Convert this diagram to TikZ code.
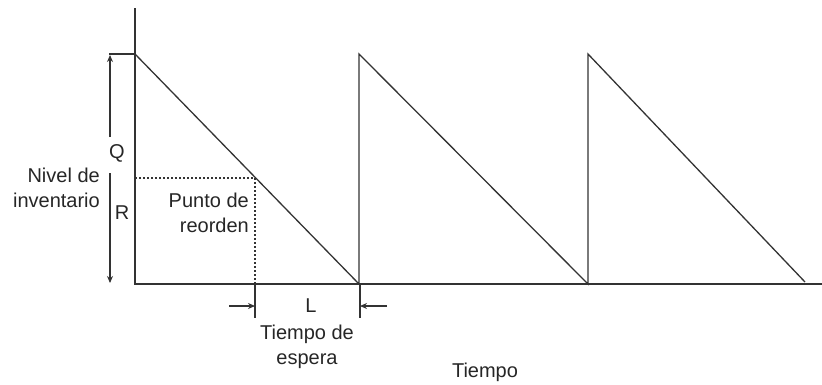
\documentclass[tikz,border=0pt]{standalone}
\usepackage{fontspec}
\setmainfont{Liberation Sans}
\usetikzlibrary{arrows.meta}
\begin{document}
\begin{tikzpicture}[x=1pt,y=-1pt,
  ln/.style={draw=black!80,line width=1.3pt},
  dot/.style={draw=black!80,line width=1.4pt,dash pattern=on 1.5pt off 2.5pt},
  arr/.style={draw=black!80,line width=1.1pt,-{Stealth[length=7pt,width=6pt]}},
  lbl/.style={font=\fontsize{20}{25}\selectfont,inner sep=0pt,text=black!85}]
\useasboundingbox (0,0) rectangle (822,384);
% key points
\coordinate (o) at (135,284);
\coordinate (ytop) at (135,8);
\coordinate (xend) at (822,284);
\coordinate (p1) at (135,54);
\coordinate (b1) at (359,284);
\coordinate (p2) at (359,54);
\coordinate (b2) at (588,284);
\coordinate (p3) at (588,54);
\coordinate (e3) at (805,282);
\coordinate (qlft) at (109,54);
\coordinate (rp) at (255,178);
\coordinate (ry) at (135,178);
\coordinate (rx) at (255,284);
\coordinate (t1) at (255,318);
\coordinate (t2) at (360,318);
\coordinate (t2top) at (360,284);
\coordinate (a1s) at (229,306);
\coordinate (a1e) at (255,306);
\coordinate (a2s) at (387,306);
\coordinate (a2e) at (360,306);
\coordinate (qup) at (110,137);
\coordinate (qtip) at (110,55);
\coordinate (qdn) at (110,173);
\coordinate (qbot) at (110,283);
% axes
\draw[ln] (ytop) -- (o) -- (xend);
\draw[ln] (qlft) -- (p1);
% sawtooth
\draw[ln] (p1) -- (b1) -- (p2) -- (b2) -- (p3) -- (e3);
% reorder point
\draw[dot] (ry) -- (rp) -- (rx);
% lead-time ticks
\draw[ln] (rx) -- (t1);
\draw[ln] (t2top) -- (t2);
\draw[arr] (a1s) -- (a1e);
\draw[arr] (a2s) -- (a2e);
% Q arrows
\draw[arr] (qup) -- (qtip);
\draw[arr] (qdn) -- (qbot);
% labels
\node[lbl] (Q) at (117,153) {Q};
\node[lbl] (R) at (122,213) {R};
\node[lbl] (L) at (311,306) {L};
\node[lbl,align=right,anchor=east] (niv) at (100,188) {Nivel de\\inventario};
\node[lbl,align=right,anchor=east] (pr) at (249,213) {Punto de\\reorden};
\node[lbl,align=center] (te) at (307,347) {Tiempo de\\espera};
\node[lbl] (ti) at (485,372) {Tiempo};
\end{tikzpicture}
\end{document}
